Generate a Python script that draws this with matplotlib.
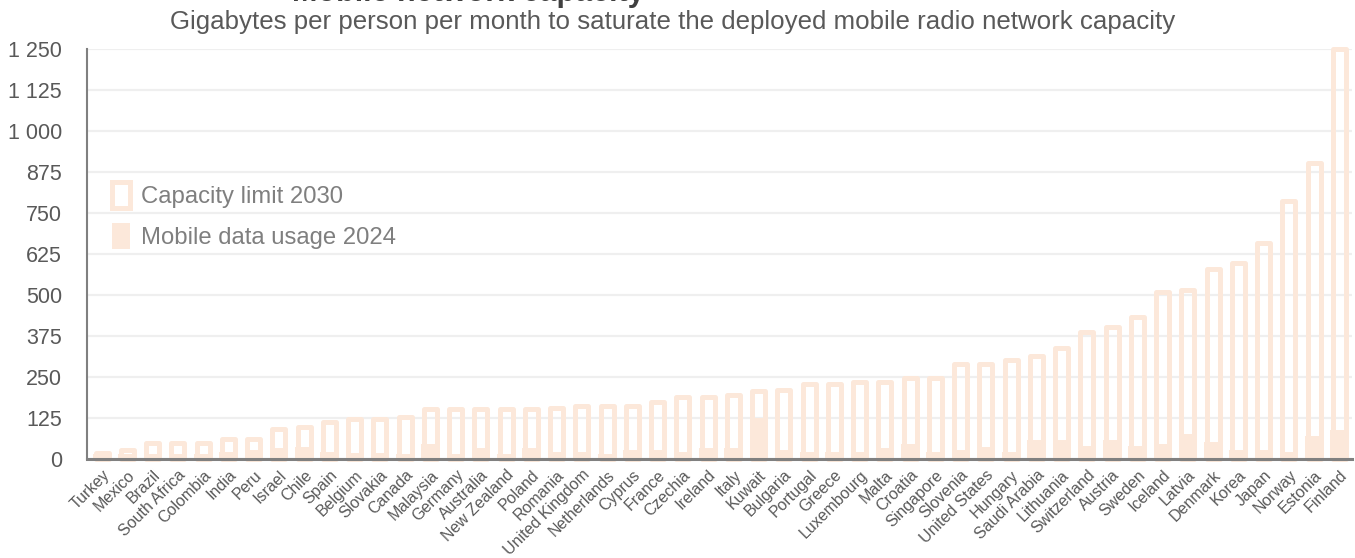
import matplotlib
matplotlib.use("Agg")
import matplotlib.pyplot as plt
import matplotlib.patches as mpatches
from matplotlib.ticker import FuncFormatter, MultipleLocator
import numpy as np

# ── Data (GB per person per month) ─────────────────────────────────────────
countries = [
    "Turkey", "Mexico", "Brazil", "South Africa", "Colombia", "India", "Peru",
    "Israel", "Chile", "Spain", "Belgium", "Slovakia", "Canada", "Malaysia",
    "Germany", "Australia", "New Zealand", "Poland", "Romania", "United Kingdom",
    "Netherlands", "Cyprus", "France", "Czechia", "Ireland", "Italy", "Kuwait",
    "Bulgaria", "Portugal", "Greece", "Luxembourg", "Malta", "Croatia",
    "Singapore", "Slovenia", "United States", "Hungary", "Saudi Arabia",
    "Lithuania", "Switzerland", "Austria", "Sweden", "Iceland", "Latvia",
    "Denmark", "Korea", "Japan", "Norway", "Estonia", "Finland",
]
capacity_2030 = [
    17, 27, 48, 48, 48, 62, 62, 93, 98, 114, 121, 121, 127, 152,
    152, 152, 152, 152, 157, 162, 162, 162, 175, 188, 188, 195, 206,
    212, 229, 229, 236, 236, 248, 248, 291, 291, 303, 315,
    340, 389, 404, 434, 509, 515, 581, 599, 660, 788, 902, 1250,
]
usage_2024 = [
    15, 15, 14, 14, 14, 20, 27, 34, 38, 20, 17, 17, 15, 46,
    15, 33, 15, 34, 20, 20, 15, 27, 27, 20, 33, 33, 124,
    27, 20, 20, 20, 33, 46, 20, 27, 38, 20, 58,
    58, 40, 58, 40, 46, 76, 51, 27, 27, 20, 70, 88,
]

# ── Aesthetics ─────────────────────────────────────────────────────────────
BAR_COLOR  = "#FCE8DA"
TEXT_COLOR = "#595959"
AXIS_COLOR = "#808080"
GRID_COLOR = "#EFEFEF"

plt.rcParams["font.family"] = ["Liberation Sans", "DejaVu Sans"]

fig = plt.figure(figsize=(13.55, 5.58), dpi=100)
ax = fig.add_axes([87 / 1355, 99 / 558, 1265 / 1355, 409.7 / 558])

x = np.arange(len(countries))

usage_bars = ax.bar(x, usage_2024, width=0.72, color=BAR_COLOR, linewidth=0,
                    zorder=2)
cap_bars = ax.bar(x, capacity_2030, width=0.52, facecolor="none",
                  edgecolor=BAR_COLOR, linewidth=3.6, zorder=3)
for p in list(usage_bars) + list(cap_bars):
    p.set_clip_on(False)
for p in cap_bars:
    p.set_joinstyle("round")

ax.set_xlim(-0.6, len(countries) - 0.5)
ax.set_ylim(0, 1250)
ax.yaxis.set_major_locator(MultipleLocator(125))
ax.yaxis.set_major_formatter(FuncFormatter(lambda v, _: f"{v:,.0f}".replace(",", " ")))
ax.grid(axis="y", color=GRID_COLOR, linewidth=1.6, zorder=0)
ax.set_axisbelow(True)

ax.set_xticks(x)
ax.set_xticklabels(countries, rotation=45, ha="right", rotation_mode="anchor",
                   fontsize=11.5, color=TEXT_COLOR)
ax.tick_params(axis="x", length=0, pad=6)
ax.tick_params(axis="y", length=0, pad=18, labelsize=15.5, labelcolor=TEXT_COLOR)

for side in ["top", "right"]:
    ax.spines[side].set_visible(False)
for side in ["left", "bottom"]:
    ax.spines[side].set_color(AXIS_COLOR)
ax.spines["left"].set_linewidth(1.5)
ax.spines["bottom"].set_linewidth(2.2)
ax.spines["bottom"].set_zorder(4)

# Legend
handles = [
    mpatches.Patch(facecolor="white", edgecolor=BAR_COLOR, linewidth=3.6,
                   label="Capacity limit 2030"),
    mpatches.Patch(facecolor=BAR_COLOR, edgecolor="none",
                   label="Mobile data usage 2024"),
]
ax.legend(handles=handles, loc="upper left", bbox_to_anchor=(0.02, 0.675),
          frameon=False, fontsize=17.2, labelcolor="#7F7F7F",
          handlelength=0.75, handleheight=1.3, handletextpad=0.45,
          labelspacing=0.6, borderpad=0, borderaxespad=0)

# Titles (main title is cut off by the top edge in the source)
fig.text(645 / 1355, 1 - 1.5 / 558, "Mobile network capacity", ha="right",
         va="baseline", fontsize=22, fontweight="bold", color="#404040")
fig.text(673 / 1355, 1 - 22 / 558,
         "Gigabytes per person per month to saturate the deployed mobile radio network capacity",
         ha="center", va="center", fontsize=18.6, color=TEXT_COLOR)

fig.savefig("out.png", dpi=100)
